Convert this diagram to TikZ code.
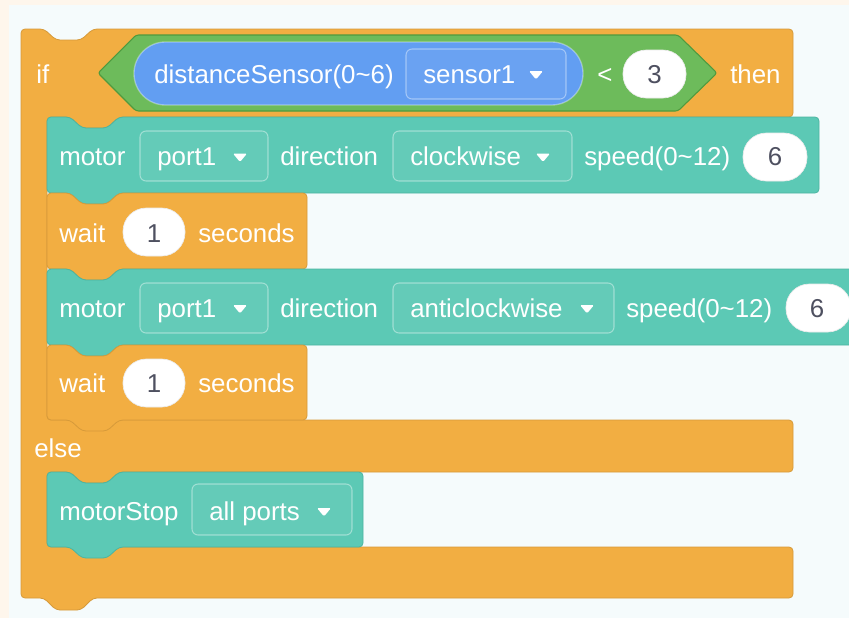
\documentclass[tikz,border=0pt]{standalone}
\usepackage{fontspec}
\newfontfamily\blockfont{Liberation Sans}

\definecolor{cream}{HTML}{FEF6EC}
\definecolor{pale}{HTML}{F5FBFC}
\definecolor{ctrlorange}{HTML}{F2AE42}
\definecolor{ctrlline}{HTML}{D69A3A}
\definecolor{motorteal}{HTML}{5CC9B5}
\definecolor{motorline}{HTML}{4CB5A1}
\definecolor{opgreen}{HTML}{6DBB5B}
\definecolor{opline}{HTML}{4F9A3E}
\definecolor{sensorblue}{HTML}{629EF2}
\definecolor{numgray}{HTML}{4E5060}

\tikzset{
  lbl/.style={anchor=base west, inner sep=0pt, text=white,
    font=\blockfont\fontsize{19.4}{22}\selectfont},
  num/.style={anchor=base, inner sep=0pt, text=numgray,
    font=\blockfont\fontsize{19.4}{22}\selectfont},
  oval/.style={fill=white, draw=black!8, line width=0.5pt, rounded corners=17.5pt},
  ddbox/.style={draw=white, draw opacity=0.4, fill=white, fill opacity=0.05,
    line width=0.8pt, rounded corners=4.5pt},
}

% stack block with a notch on top and a tab below:
% #1 fill, #2 outline, #3 left, #4 right, #5 top, #6 bottom
\newcommand{\stackblk}[6]{%
  \draw[fill=#1, draw=#2, line width=0.6pt, rounded corners=3pt]
    (#3,#5) -- ({#3+23},#5) -- ({#3+35},{#5+11}) -- ({#3+60},{#5+11})
    -- ({#3+72},#5) -- (#4,#5) -- (#4,#6) -- ({#3+72},#6)
    -- ({#3+60},{#6+11}) -- ({#3+35},{#6+11}) -- ({#3+23},#6)
    -- (#3,#6) -- cycle;}

% small dropdown arrow centred at (#1,#2)
\newcommand{\ddarrow}[2]{%
  \fill[white, rounded corners=1pt] ({#1-7},{#2-4}) -- ({#1+7},{#2-4}) -- (#1,{#2+4.5}) -- cycle;}

\begin{document}
\begin{tikzpicture}[x=0.75pt,y=-0.75pt]
\useasboundingbox (0,0) rectangle (849,618);
\clip (0,0) rectangle (849,618);

% backdrop
\fill[cream] (0,0) rectangle (849,618);
\fill[pale] (9,5) rectangle (849,618);

% if / else C-block
\draw[fill=ctrlorange, draw=ctrlline, line width=0.6pt, rounded corners=3pt]
  (21,29) -- (44,29) -- (56,40) -- (81,40) -- (93,29) -- (793,29) -- (793,117)
  -- (119,117) -- (107,128) -- (82,128) -- (70,117) -- (47,117) -- (47,420)
  -- (793,420) -- (793,472) -- (119,472) -- (107,483) -- (82,483) -- (70,472)
  -- (47,472) -- (47,547) -- (793,547) -- (793,598) -- (93,598) -- (81,610)
  -- (56,610) -- (44,598) -- (21,598) -- cycle;

% condition: distanceSensor < 3
\draw[fill=opgreen, draw=opline, line width=0.8pt, rounded corners=2pt]
  (98,73) -- (136,35) -- (678,35) -- (717,73) -- (678,111) -- (136,111) -- cycle;
\draw[fill=sensorblue, draw=white, draw opacity=0.35, line width=1pt, rounded corners=23.5pt]
  (134,42) rectangle (583,105);
\draw[ddbox] (406,49) rectangle (566,99);
\ddarrow{536}{75}
\draw[oval] (623,50) rectangle (686,98);

\node[lbl] (if) at (36,83) {if};
\node[lbl] (sensor) at (154,83) {distanceSensor(0\textasciitilde 6)};
\node[lbl] (sensorsel) at (423,83) {sensor1};
\node[lbl] (less) at (597,83) {<};
\node[num] (three) at (654.5,83) {3};
\node[lbl] (then) at (730,83) {then};

% motor port1 clockwise
\stackblk{motorteal}{motorline}{47}{819}{117}{193}
\draw[ddbox] (140,131) rectangle (268,181);
\ddarrow{240}{157.5}
\draw[ddbox] (393,131) rectangle (572,181);
\ddarrow{543}{157.5}
\draw[oval] (743,133) rectangle (807,181);
\node[lbl] (motorA) at (59,165.5) {motor};
\node[lbl] (portA) at (157,165.5) {port1};
\node[lbl] (dirA) at (280,165.5) {direction};
\node[lbl] (cw) at (410,165.5) {clockwise};
\node[lbl] (speedA) at (584,165.5) {speed(0\textasciitilde 12)};
\node[num] (sixA) at (775,165.5) {6};

% wait 1 seconds
\stackblk{ctrlorange}{ctrlline}{47}{307}{193}{269}
\draw[oval] (123,208) rectangle (185,256);
\node[lbl] (waitA) at (59,242) {wait};
\node[num] (oneA) at (154,242) {1};
\node[lbl] (secA) at (198,242) {seconds};

% motor port1 anticlockwise
\stackblk{motorteal}{motorline}{47}{880}{269}{345}
\draw[ddbox] (140,283) rectangle (268,333);
\ddarrow{240}{309}
\draw[ddbox] (393,283) rectangle (614,333);
\ddarrow{587}{309}
\draw[oval] (786,284) rectangle (851,332);
\node[lbl] (motorB) at (59,317) {motor};
\node[lbl] (portB) at (157,317) {port1};
\node[lbl] (dirB) at (280,317) {direction};
\node[lbl] (acw) at (410,317) {anticlockwise};
\node[lbl] (speedB) at (626,317) {speed(0\textasciitilde 12)};
\node[num] (sixB) at (817,317) {6};

% wait 1 seconds
\stackblk{ctrlorange}{ctrlline}{47}{307}{345}{420}
\draw[oval] (123,359) rectangle (185,407);
\node[lbl] (waitB) at (59,392) {wait};
\node[num] (oneB) at (154,392) {1};
\node[lbl] (secB) at (198,392) {seconds};

% else branch
\node[lbl] (else) at (34,457) {else};

% motorStop all ports
\stackblk{motorteal}{motorline}{47}{363}{472}{547}
\draw[ddbox] (192,484) rectangle (352,535);
\ddarrow{324}{512}
\node[lbl] (stop) at (59,520) {motorStop};
\node[lbl] (allports) at (209,520) {all ports};
\end{tikzpicture}
\end{document}
